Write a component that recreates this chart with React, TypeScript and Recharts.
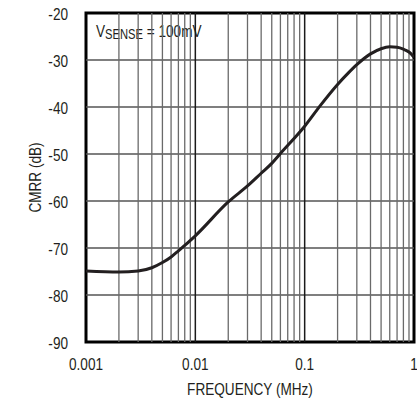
import React from 'react';
import {
  LineChart,
  Line,
  XAxis,
  YAxis,
  ReferenceLine,
  ReferenceArea,
} from 'recharts';

// CMRR vs frequency
const freq = [0.001, 0.002, 0.003, 0.004, 0.005, 0.006, 0.007, 0.01, 0.02, 0.03, 0.04, 0.05, 0.06, 0.1, 0.14, 0.2, 0.25, 0.3, 0.4, 0.5, 0.6, 0.7, 0.8, 0.9, 1.0];
const cmrr = [-74.9, -75.1, -74.9, -74.2, -73.1, -71.9, -70.6, -67.4, -60.2, -56.8, -54.1, -52, -49.9, -44.1, -39.6, -35.2, -32.8, -31, -28.7, -27.6, -27.2, -27.3, -27.7, -28.3, -29.4];

const xTicks = [0.001, 0.01, 0.1, 1];
const yTicks = [-90, -80, -70, -60, -50, -40, -30, -20];
const minorX = [
  0.002, 0.003, 0.004, 0.005, 0.006, 0.007, 0.008, 0.009,
  0.02, 0.03, 0.04, 0.05, 0.06, 0.07, 0.08, 0.09,
  0.2, 0.3, 0.4, 0.5, 0.6, 0.7, 0.8, 0.9,
];
const majorX = [0.01, 0.1];

const data = freq.map((f, i) => ({ f, v: cmrr[i] }));

const FONT = '"Liberation Sans", Arial, sans-serif';
const INK = '#231f20';
const SQUEEZE = 0.8; // the original uses a condensed face

// text squeezed horizontally to imitate the condensed font
const Cond = ({ x, y, anchor = 'middle', rotate = 0, size = 17, children }: any) => (
  <text
    transform={`translate(${x},${y}) rotate(${rotate}) scale(${SQUEEZE},1)`}
    textAnchor={anchor}
    fontFamily={FONT}
    fontSize={size}
    fill={INK}
  >
    {children}
  </text>
);

const XTick = (props: any) => {
  const { x, y, payload } = props;
  return <Cond x={x} y={y + 28}>{String(payload.value)}</Cond>;
};

const YTick = (props: any) => {
  const { x, y, payload } = props;
  return <Cond x={x} y={y + 7} anchor="end">{String(payload.value)}</Cond>;
};

const XTitle = (props: any) => {
  const { viewBox } = props;
  return <Cond x={viewBox.x + viewBox.width / 2} y={viewBox.y + 53}>FREQUENCY (MHz)</Cond>;
};

const YTitle = (props: any) => {
  const { viewBox } = props;
  return <Cond x={41} y={viewBox.y + viewBox.height / 2} rotate={-90}>CMRR (dB)</Cond>;
};

const SenseLabel = (props: any) => {
  const { viewBox } = props;
  return (
    <text
      transform={`translate(${viewBox.x + 10},${viewBox.y + 21}) scale(${SQUEEZE},1)`}
      fontFamily={FONT}
      fontSize={17}
      fill={INK}
    >
      <tspan>V</tspan>
      <tspan fontSize={14} dy={2}>SENSE</tspan>
      <tspan dy={-2}> = 100mV</tspan>
    </text>
  );
};

const App = () => {
  return (
    <div style={{ position: 'absolute', left: 0, top: 0, background: '#fff' }}>
      <LineChart width={417} height={402} data={data} margin={{ top: 13, right: 3, left: 0, bottom: 8 }}>
        <XAxis
          dataKey="f"
          type="number"
          scale="log"
          domain={[0.001, 1]}
          ticks={xTicks}
          allowDataOverflow
          axisLine={false}
          tickLine={false}
          tickSize={0}
          tickMargin={0}
          height={52}
          interval={0}
          tick={<XTick />}
          label={<XTitle />}
        />
        <YAxis
          type="number"
          domain={[-90, -20]}
          ticks={yTicks}
          axisLine={false}
          tickLine={false}
          tickSize={0}
          tickMargin={18}
          width={86}
          interval={0}
          tick={<YTick />}
          label={<YTitle />}
        />
        {yTicks.slice(1, -1).map((y) => (
          <ReferenceLine key={`h${y}`} y={y} stroke="#555" strokeWidth={1.3} />
        ))}
        {minorX.map((x) => (
          <ReferenceLine key={`m${x}`} x={x} stroke="#6a6a6a" strokeWidth={1.3} />
        ))}
        {majorX.map((x) => (
          <ReferenceLine key={`M${x}`} x={x} stroke="#1a1a1a" strokeWidth={1.5} />
        ))}
        <ReferenceArea x1={0.001} x2={0.021} y1={-28.8} y2={-20.7} fill="#fff" fillOpacity={1} stroke="none" label={<SenseLabel />} />
        <Line
          type="monotone"
          dataKey="v"
          stroke={INK}
          strokeWidth={3}
          dot={false}
          isAnimationActive={false}
        />
        <ReferenceArea x1={0.001} x2={1} y1={-90} y2={-20} fill="none" stroke="#000" strokeWidth={3} ifOverflow="visible" />
      </LineChart>
    </div>
  );
};

export default App;
